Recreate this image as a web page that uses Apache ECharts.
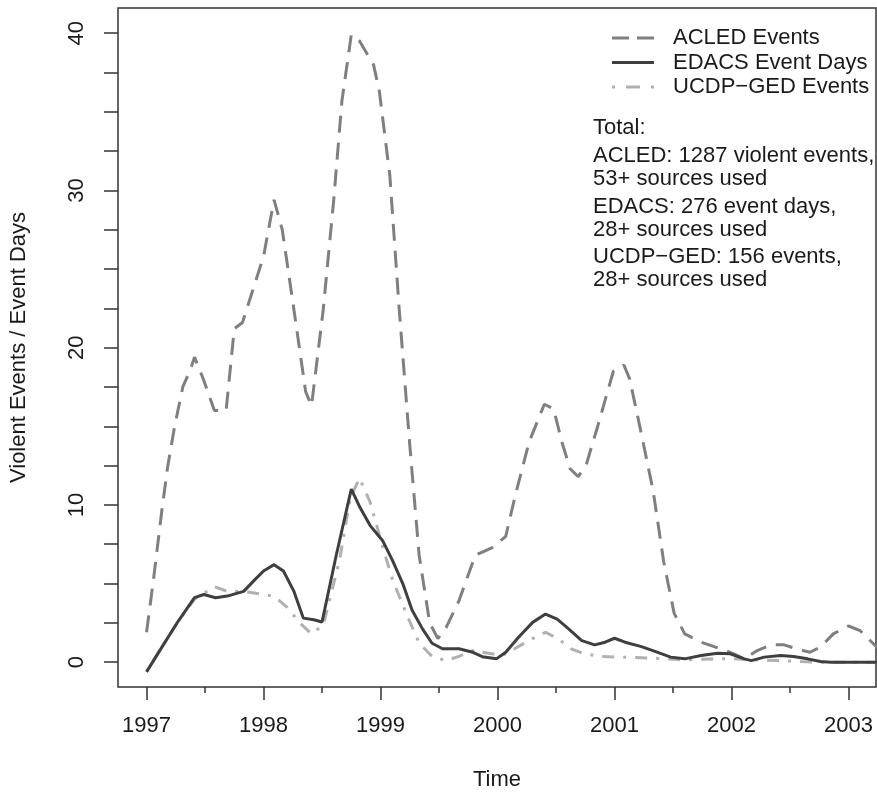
<!DOCTYPE html>
<html>
<head>
<meta charset="utf-8">
<script src="https://cdn.jsdelivr.net/npm/echarts@6/dist/echarts.min.js"></script>
<style>html,body{margin:0;padding:0;background:#fff;}#chart{width:877px;height:796px;}</style>
</head>
<body>
<div id="chart"></div>
<script>
// ---- data ----
const acledTime = [1997.00,1997.06,1997.13,1997.18,1997.24,1997.31,1997.38,1997.41,1997.48,1997.58,1997.68,1997.75,1997.82,1998.00,1998.09,1998.16,1998.26,1998.36,1998.41,1998.51,1998.60,1998.67,1998.75,1998.82,1998.94,1998.99,1999.08,1999.16,1999.25,1999.33,1999.42,1999.49,1999.56,1999.67,1999.81,1999.87,1999.96,2000.07,2000.155,2000.27,2000.40,2000.48,2000.55,2000.62,2000.69,2000.76,2000.86,2000.99,2001.08,2001.13,2001.23,2001.33,2001.42,2001.51,2001.60,2001.74,2001.91,2002.02,2002.11,2002.22,2002.34,2002.45,2002.56,2002.67,2002.76,2002.87,2003.00,2003.10,2003.25];
const acledValues = [1.9,5.3,9.6,12.4,15.0,17.5,18.7,19.4,18.1,16.0,16.0,21.2,21.6,25.8,29.4,27.5,22.4,17.2,16.3,22.4,29.4,35.7,39.9,39.5,38.0,36.3,30.9,22.4,13.8,6.8,2.5,1.5,2.2,3.9,6.8,7.0,7.3,8.0,10.7,14.0,16.4,16.1,14.0,12.3,11.8,12.6,15.1,18.5,18.9,18.0,14.5,10.9,6.4,3.1,1.8,1.27,0.84,0.53,0.2,0.74,1.1,1.1,0.84,0.63,0.95,1.8,2.3,2.0,0.9];

const edacsTime = [1997.00,1997.13,1997.27,1997.41,1997.49,1997.59,1997.69,1997.83,1997.92,1998.00,1998.09,1998.17,1998.26,1998.34,1998.43,1998.50,1998.62,1998.75,1998.82,1998.91,1999.02,1999.10,1999.19,1999.27,1999.36,1999.44,1999.53,1999.67,1999.78,1999.87,1999.99,2000.07,2000.18,2000.30,2000.41,2000.51,2000.61,2000.72,2000.83,2000.92,2001.00,2001.09,2001.23,2001.34,2001.48,2001.60,2001.74,2001.88,2001.99,2002.11,2002.17,2002.28,2002.42,2002.53,2002.65,2002.76,2002.85,2003.00,2003.25];
const edacsValues = [-0.62,0.94,2.6,4.1,4.3,4.1,4.2,4.5,5.2,5.8,6.2,5.8,4.5,2.8,2.7,2.55,6.75,11.0,9.9,8.7,7.7,6.5,5.0,3.3,2.1,1.2,0.85,0.85,0.65,0.35,0.21,0.63,1.58,2.53,3.06,2.74,2.1,1.37,1.1,1.27,1.52,1.27,0.99,0.7,0.32,0.21,0.42,0.57,0.53,0.21,0.1,0.32,0.42,0.36,0.21,0.04,0,0,0];

const ucdpTime = [1997.00,1997.13,1997.27,1997.41,1997.58,1997.69,1997.83,1998.00,1998.09,1998.20,1998.31,1998.41,1998.51,1998.65,1998.74,1998.82,1998.91,1999.02,1999.10,1999.22,1999.33,1999.44,1999.56,1999.67,1999.81,1999.87,2000.04,2000.18,2000.32,2000.41,2000.52,2000.63,2000.74,2000.88,2001.05,2001.28,2001.45,2001.62,2001.85,2002.02,2002.19,2002.42,2002.59,2002.76,2003.00,2003.25];
const ucdpValues = [-0.6,0.95,2.6,4.0,4.8,4.5,4.5,4.3,4.2,3.5,2.5,1.8,2.35,6.5,10.4,11.7,10.2,7.3,5.3,3.1,1.2,0.37,0.1,0.37,0.8,0.63,0.42,1.0,1.58,1.9,1.48,0.84,0.53,0.36,0.32,0.27,0.21,0.15,0.21,0.21,0.15,0.1,0.04,0,0,0];

const seriesNames = ['ACLED Events', 'EDACS Event Days', 'UCDP\u2212GED Events'];
const xMajorTicks = [1997, 1998, 1999, 2000, 2001, 2002, 2003];
const xMinorTicks = [1997.5, 1998.5, 1999.5, 2000.5, 2001.5, 2002.5];
const yTickValues = [0, 2.5, 5, 7.5, 10, 12.5, 15, 17.5, 20, 22.5, 25, 27.5, 30, 32.5, 35, 37.5, 40];
const yLabelValues = [0, 10, 20, 30, 40];
const noteLines = ['Total:', 'ACLED: 1287 violent events,', '53+ sources used', 'EDACS: 276 event days,', '28+ sources used', 'UCDP\u2212GED: 156 events,', '28+ sources used'];
const noteTops = [128, 156, 179, 207, 230, 257, 280];

// ---- chart ----
const FONT = '"Liberation Sans", Arial, Helvetica, sans-serif';
const TXT = '#1a1a1a';
const AX = '#333333';
const pairs = (xs, ys) => xs.map((x, i) => [x, ys[i]]);
const legendIcons = [
  'path://M0,0H17V3H0Z M25,0H42V3H25Z',
  'path://M0,0H42V3H0Z',
  'path://M0,0H3V3H0Z M14,0H28V3H14Z M39,0H42V3H39Z'
];

const chart = echarts.init(document.getElementById('chart'), null, { renderer: 'canvas' });

const xBase = {
  type: 'value', min: 1996.756, max: 2003.235, position: 'bottom',
  axisLine: { show: false, onZero: false }, splitLine: { show: false }
};

const option = {
  backgroundColor: '#ffffff',
  animation: false,
  grid: { left: 113, right: 1, top: 8, bottom: 106, show: true, borderColor: AX, borderWidth: 1.5, backgroundColor: 'transparent' },
  xAxis: [
    Object.assign({}, xBase, {
      axisTick: { show: true, length: 13, customValues: xMajorTicks, lineStyle: { color: AX, width: 1.5 } },
      axisLabel: { customValues: xMajorTicks, margin: 28, fontSize: 22, color: TXT, fontFamily: FONT, formatter: v => String(v) },
      name: 'Time', nameLocation: 'middle', nameGap: 82,
      nameTextStyle: { fontSize: 22, color: TXT, fontFamily: FONT }
    }),
    Object.assign({}, xBase, {
      axisTick: { show: true, length: 6, customValues: xMinorTicks, lineStyle: { color: AX, width: 1.5 } },
      axisLabel: { show: false }
    })
  ],
  yAxis: {
    type: 'value', min: -1.58, max: 41.6,
    axisLine: { show: false, onZero: false }, splitLine: { show: false },
    axisTick: { show: true, length: 14, customValues: yTickValues, lineStyle: { color: AX, width: 1.5 } },
    axisLabel: { customValues: yLabelValues, rotate: 90, margin: 30, fontSize: 22, color: TXT, fontFamily: FONT },
    name: 'Violent Events / Event Days', nameLocation: 'middle', nameGap: 88, nameRotate: 90,
    nameTextStyle: { fontSize: 22, color: TXT, fontFamily: FONT }
  },
  legend: {
    data: seriesNames.map((n, i) => ({ name: n, icon: legendIcons[i] })),
    orient: 'vertical', left: 612, top: 27, padding: 0,
    itemWidth: 42, itemHeight: 3, itemGap: 2.5,
    itemStyle: { borderWidth: 0 },
    textStyle: { fontSize: 22, color: TXT, fontFamily: FONT, padding: [0, 0, 0, 14] },
    selectedMode: false
  },
  graphic: noteLines.map((t, i) => ({
    type: 'text', left: 593, top: noteTops[i] - 11,
    style: { text: t, fontSize: 22, fontFamily: FONT, fill: TXT }
  })),
  series: [
    {
      name: seriesNames[0], type: 'line', data: pairs(acledTime, acledValues),
      symbol: 'none', clip: true, z: 2,
      lineStyle: { color: '#7f7f7f', width: 3, type: [17, 10], cap: 'butt' },
      itemStyle: { color: '#7f7f7f' }
    },
    {
      name: seriesNames[2], type: 'line', data: pairs(ucdpTime, ucdpValues),
      symbol: 'none', clip: true, z: 3,
      lineStyle: { color: '#b0b0b0', width: 3, type: [3, 9, 12, 9], cap: 'butt' },
      itemStyle: { color: '#b0b0b0' }
    },
    {
      name: seriesNames[1], type: 'line', data: pairs(edacsTime, edacsValues),
      symbol: 'none', clip: true, z: 4,
      lineStyle: { color: '#3f3f3f', width: 3, type: 'solid' },
      itemStyle: { color: '#3f3f3f' }
    }
  ]
};
chart.setOption(option);
</script>
</body>
</html>
